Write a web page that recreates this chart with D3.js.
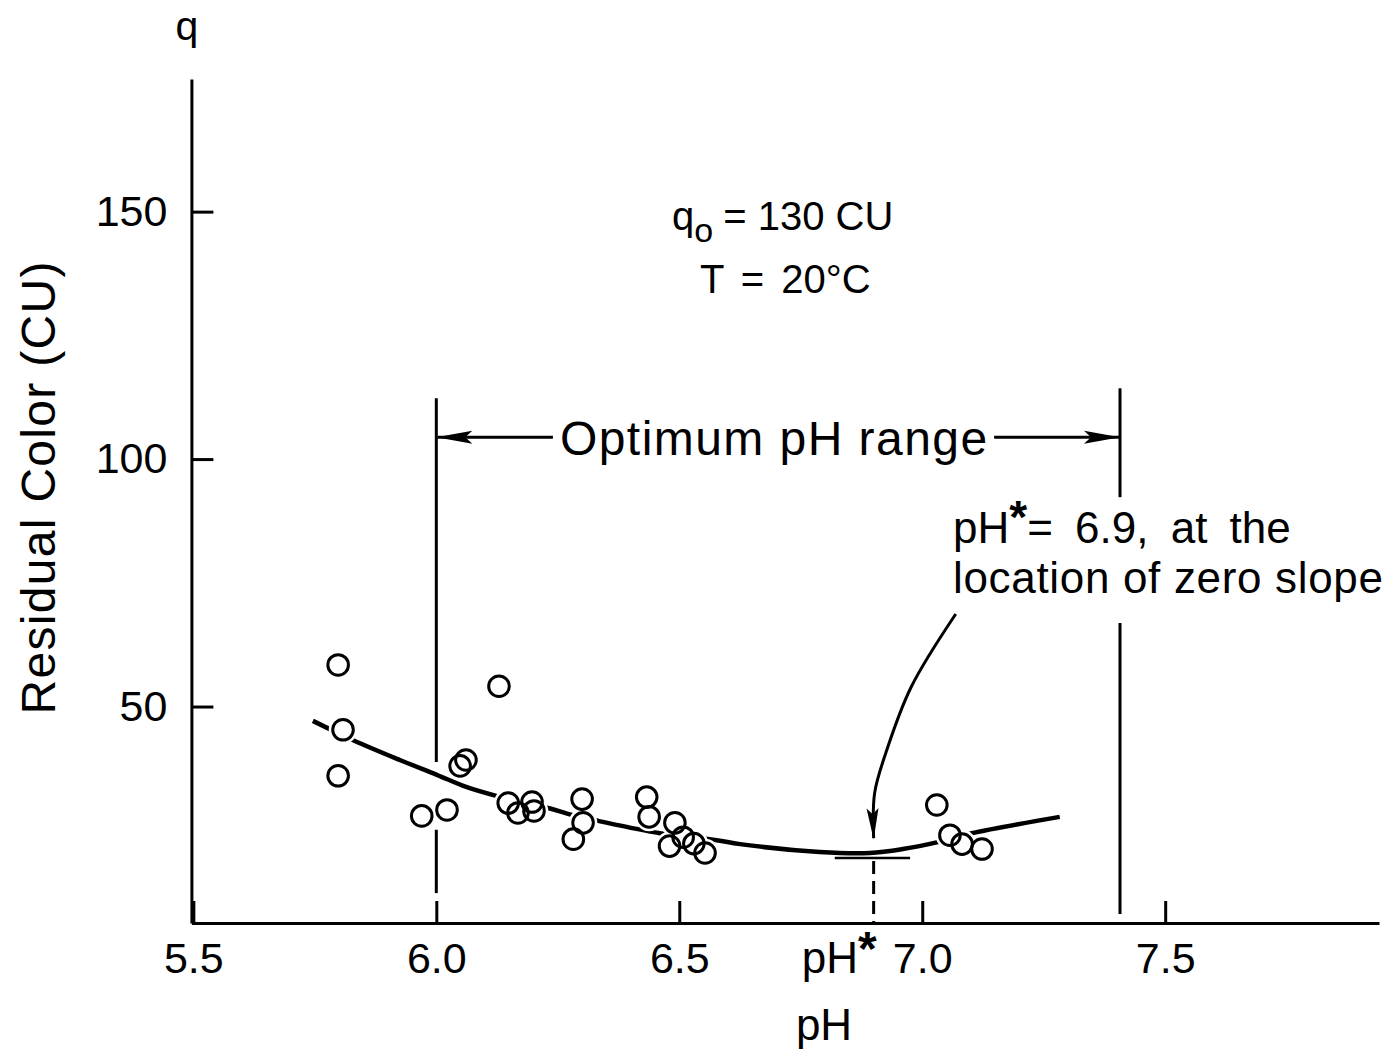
<!DOCTYPE html>
<html>
<head>
<meta charset="utf-8">
<script src="https://cdn.jsdelivr.net/npm/d3@7/dist/d3.min.js"></script>
<style>
  body { margin: 0; background: #fff; }
  svg text { font-family: "Liberation Sans", Arial, sans-serif; fill: #000; }
</style>
</head>
<body>
<svg id="chart" width="1395" height="1055"></svg>
<script>
const obsPH = [5.798, 5.808, 5.798, 6.129, 6.061, 6.049, 5.970, 6.022, 6.148, 6.168, 6.197, 6.201, 6.300,
               6.302, 6.282, 6.433, 6.438, 6.491, 6.480, 6.508, 6.530, 6.553, 7.030, 7.057, 7.082, 7.123];
const obsCU = [58.4, 45.3, 36.0, 54.1, 39.2, 38.0, 27.9, 29.1, 30.5, 28.5, 30.7, 28.9, 31.3,
               26.5, 23.2, 31.7, 27.7, 26.5, 21.8, 23.6, 22.3, 20.4, 30.1, 24.0, 22.2, 21.2];

// fitted curve, traced
const fitPH = [5.746, 5.829, 5.925, 6.001, 6.063, 6.125, 6.230, 6.279, 6.333, 6.460, 6.577, 6.625,
               6.789, 6.892, 6.960, 7.032, 7.102, 7.283];
const fitCU = [47.1, 43.2, 39.2, 36.2, 33.7, 31.9, 29.5, 28.1, 26.9, 24.4, 23.0, 22.2,
               20.6, 20.4, 21.2, 22.6, 24.4, 27.7];

const xTicks = [5.5, 6.0, 6.5, 7.0, 7.5];
const yTicks = [50, 100, 150];

// optimum range bounds and the segments of their vertical lines (CU from / to)
const optLow = 6.0, optHigh = 7.407;
const lowSegs = [[112.3, 38.8], [25.1, 12.3]];
const highSegs = [[114.3, 92.3], [66.9, 8.1]];
const rangeArrowCU = 104.4;
const rangeTextFrom = 6.24, rangeTextTo = 7.148;

// zero slope point
const pHstar = 6.9;
const minLine = [6.82, 6.975], minCU = 19.4;
const arrowPH = [7.069, 6.977, 6.925, 6.902, 6.900];
const arrowCU = [68.7, 53.9, 40.6, 32.5, 23.4];

const svg = d3.select("#chart");
const x = d3.scaleLinear().domain([5.496, 7.94]).range([191.4, 1379]);
const y = d3.scaleLinear().domain([6.26, 176.8]).range([923, 79]);

const defs = svg.append("defs");
defs.append("marker").attr("id", "head").attr("viewBox", "-32 -8 34 16")
  .attr("refX", 0).attr("refY", 0).attr("markerWidth", 34).attr("markerHeight", 16)
  .attr("markerUnits", "userSpaceOnUse").attr("orient", "auto")
  .append("path").attr("d", "M1,0L-30,-6L-24,0L-30,6Z").attr("fill", "#000");
defs.append("marker").attr("id", "head2").attr("viewBox", "-38 -8 40 16")
  .attr("refX", 0).attr("refY", 0).attr("markerWidth", 40).attr("markerHeight", 16)
  .attr("markerUnits", "userSpaceOnUse").attr("orient", "auto")
  .append("path").attr("d", "M1,0L-35,-6.5L-28,0L-35,6.5Z").attr("fill", "#000");

// axes
const gx = svg.append("g").attr("transform", `translate(0,${y(6.26)})`)
  .call(d3.axisBottom(x).tickValues(xTicks).tickFormat(d3.format(".1f"))
    .tickSize(-22).tickSizeOuter(0).tickPadding(19));
const gy = svg.append("g").attr("transform", `translate(${x(5.496)},0)`)
  .call(d3.axisLeft(y).tickValues(yTicks).tickSize(-22).tickSizeOuter(0).tickPadding(24));
[gx, gy].forEach(g => {
  g.select(".domain").attr("stroke-width", 3);
  g.selectAll(".tick line").attr("stroke-width", 3);
  g.selectAll(".tick text").attr("font-size", 43)
    .style("font-family", "'Liberation Sans', Arial, sans-serif");
});

svg.append("text").attr("x", 187).attr("y", 40).attr("text-anchor", "middle")
  .attr("font-size", 41).text("q");
svg.append("text").attr("transform", "translate(55,488) rotate(-90)")
  .attr("text-anchor", "middle").attr("font-size", 48)
  .attr("textLength", 453).attr("lengthAdjust", "spacing").text("Residual Color (CU)");
svg.append("text").attr("x", 824).attr("y", 1040).attr("text-anchor", "middle")
  .attr("font-size", 44).text("pH");

// pH* under the axis
const star = svg.append("text").attr("x", x(pHstar) + 3).attr("y", 973)
  .attr("text-anchor", "end").attr("font-size", 44);
star.append("tspan").text("pH");
star.append("tspan").attr("dy", -8).attr("font-size", 48).attr("font-weight", "bold").text("*");

// conditions
const q0 = svg.append("text").attr("x", 672).attr("y", 230).attr("font-size", 40);
q0.append("tspan").text("q");
q0.append("tspan").attr("dy", 12).attr("font-size", 34).text("o");
q0.append("tspan").attr("dy", -12).attr("dx", 10).text("= 130 CU");
svg.append("text").attr("x", 700).attr("y", 293).attr("font-size", 40)
  .attr("word-spacing", 6).text("T = 20°C");

// fitted curve
const line = d3.line().x(d => x(d[0])).y(d => y(d[1])).curve(d3.curveCatmullRom);
svg.append("path").datum(d3.zip(fitPH, fitCU)).attr("d", line)
  .attr("fill", "none").attr("stroke", "#000").attr("stroke-width", 4.5);

// optimum range lines
lowSegs.forEach(s => svg.append("line").attr("x1", x(optLow)).attr("x2", x(optLow))
  .attr("y1", y(s[0])).attr("y2", y(s[1])).attr("stroke", "#000").attr("stroke-width", 3));
highSegs.forEach(s => svg.append("line").attr("x1", x(optHigh)).attr("x2", x(optHigh))
  .attr("y1", y(s[0])).attr("y2", y(s[1])).attr("stroke", "#000").attr("stroke-width", 3));
svg.append("line").attr("x1", x(rangeTextFrom)).attr("x2", x(optLow) + 1)
  .attr("y1", y(rangeArrowCU)).attr("y2", y(rangeArrowCU))
  .attr("stroke", "#000").attr("stroke-width", 3).attr("marker-end", "url(#head2)");
svg.append("line").attr("x1", x(rangeTextTo)).attr("x2", x(optHigh) - 1)
  .attr("y1", y(rangeArrowCU)).attr("y2", y(rangeArrowCU))
  .attr("stroke", "#000").attr("stroke-width", 3).attr("marker-end", "url(#head2)");
svg.append("text").attr("x", (x(rangeTextFrom) + x(rangeTextTo)) / 2).attr("y", y(rangeArrowCU) + 18)
  .attr("text-anchor", "middle").attr("font-size", 48)
  .attr("textLength", x(rangeTextTo) - x(rangeTextFrom) - 14).attr("lengthAdjust", "spacing")
  .text("Optimum  pH  range");

// zero slope marks
svg.append("line").attr("x1", x(minLine[0])).attr("x2", x(minLine[1]))
  .attr("y1", y(minCU)).attr("y2", y(minCU)).attr("stroke", "#000").attr("stroke-width", 2.5);
svg.append("line").attr("x1", x(pHstar)).attr("x2", x(pHstar))
  .attr("y1", y(minCU) + 3).attr("y2", y(6.26))
  .attr("stroke", "#000").attr("stroke-width", 3).attr("stroke-dasharray", "13,7");
svg.append("path").datum(d3.zip(arrowPH, arrowCU)).attr("d", line)
  .attr("fill", "none").attr("stroke", "#000").attr("stroke-width", 3)
  .attr("marker-end", "url(#head)");

const note = svg.append("text").attr("x", 953).attr("y", 543).attr("font-size", 44);
note.append("tspan").text("pH");
note.append("tspan").attr("dy", -10).attr("font-size", 46).attr("font-weight", "bold").text("*");
note.append("tspan").attr("dy", 10).attr("word-spacing", 10).text("= 6.9,  at  the");
svg.append("text").attr("x", 953).attr("y", 593).attr("font-size", 44)
  .attr("textLength", 430).attr("lengthAdjust", "spacing").text("location of zero slope");

// data points: white halo first so the curve breaks around them
const pts = d3.zip(obsPH, obsCU);
svg.append("g").selectAll("circle").data(pts).join("circle")
  .attr("cx", d => x(d[0])).attr("cy", d => y(d[1])).attr("r", 10.3)
  .attr("fill", "#fff").attr("stroke", "#fff").attr("stroke-width", 8);
svg.append("g").selectAll("circle").data(pts).join("circle")
  .attr("cx", d => x(d[0])).attr("cy", d => y(d[1])).attr("r", 10.3)
  .attr("fill", "none").attr("stroke", "#000").attr("stroke-width", 3);
</script>
</body>
</html>
